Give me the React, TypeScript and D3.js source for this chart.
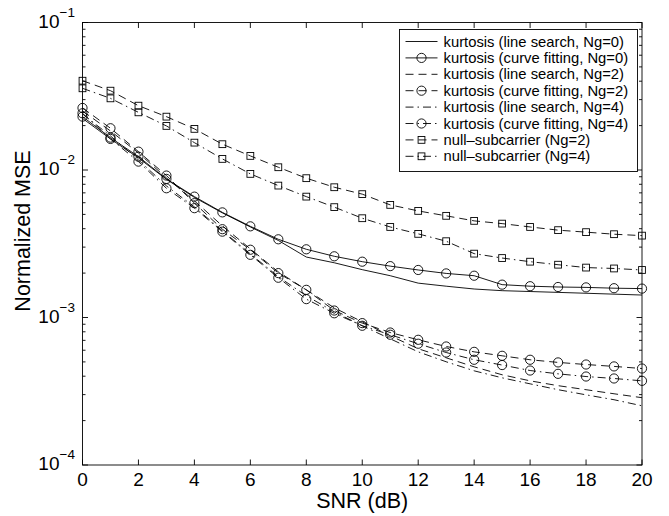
import React from "react";
import * as d3 from "d3";

const snrDb = [0, 1, 2, 3, 4, 5, 6, 7, 8, 9, 10, 11, 12, 13, 14, 15, 16, 17, 18, 19, 20];

const lineSearchNg0 = [0.02237, 0.01624, 0.01208, 0.00864, 0.00652, 0.00512, 0.00411, 0.00333, 0.00257, 0.00235, 0.00211, 0.00192, 0.00171, 0.00163, 0.00156, 0.00152, 0.0015, 0.00148, 0.00146, 0.00144, 0.00142];
const curveFitNg0 = [0.023, 0.01658, 0.01232, 0.0087, 0.0066, 0.00516, 0.00415, 0.00339, 0.0029, 0.0026, 0.00239, 0.00223, 0.0021, 0.00199, 0.00192, 0.00167, 0.00163, 0.00161, 0.0016, 0.00158, 0.00157];
const lineSearchNg2 = [0.02514, 0.0184, 0.01305, 0.00884, 0.00618, 0.00418, 0.00292, 0.00204, 0.00154, 0.001163, 0.000935, 0.000752, 0.000614, 0.000533, 0.000463, 0.000409, 0.000372, 0.000345, 0.000324, 0.000304, 0.000286];
const curveFitNg2 = [0.02635, 0.01919, 0.01332, 0.00917, 0.00596, 0.00397, 0.00288, 0.002, 0.00154, 0.001115, 0.000916, 0.000791, 0.000706, 0.000636, 0.000585, 0.00055, 0.000517, 0.000496, 0.00048, 0.000466, 0.000451];
const lineSearchNg4 = [0.02399, 0.01702, 0.0117, 0.0078, 0.00562, 0.00387, 0.0027, 0.00189, 0.001403, 0.001093, 0.000879, 0.000717, 0.000585, 0.000501, 0.000435, 0.00039, 0.000355, 0.000324, 0.000299, 0.000277, 0.000252];
const curveFitNg4 = [0.02425, 0.01624, 0.0114, 0.00752, 0.00551, 0.00382, 0.00266, 0.00186, 0.001332, 0.001068, 0.000879, 0.000764, 0.000664, 0.000579, 0.000517, 0.000476, 0.000437, 0.000415, 0.000398, 0.000386, 0.000372];
const nullSubNg2 = [0.0403, 0.0345, 0.0273, 0.023, 0.019, 0.01496, 0.01246, 0.01044, 0.0088, 0.00764, 0.00686, 0.0058, 0.00528, 0.00489, 0.00452, 0.00433, 0.00411, 0.00391, 0.00379, 0.00367, 0.00359];
const nullSubNg4 = [0.0358, 0.0306, 0.0246, 0.0199, 0.01533, 0.01189, 0.00941, 0.00784, 0.0066, 0.0056, 0.00471, 0.00411, 0.00369, 0.00329, 0.00271, 0.00253, 0.00239, 0.00228, 0.00218, 0.00215, 0.0021];

const legendLabels = [
  "kurtosis (line search, Ng=0)",
  "kurtosis (curve fitting, Ng=0)",
  "kurtosis (line search, Ng=2)",
  "kurtosis (curve fitting, Ng=2)",
  "kurtosis (line search, Ng=4)",
  "kurtosis (curve fitting, Ng=4)",
  "null\u2013subcarrier (Ng=2)",
  "null\u2013subcarrier (Ng=4)",
];

const xTicks = [0, 2, 4, 6, 8, 10, 12, 14, 16, 18, 20];
const yDecades = [1e-4, 1e-3, 1e-2, 1e-1];
const yExpLabels = ["\u22124", "\u22123", "\u22122", "\u22121"];

type Marker = "none" | "circle" | "square";
const DASH = "8,5";
const DASHDOT = "8,4,1.5,4";

const series: { data: number[]; dash: string | undefined; marker: Marker }[] = [
  { data: lineSearchNg0, dash: undefined, marker: "none" },
  { data: curveFitNg0, dash: undefined, marker: "circle" },
  { data: lineSearchNg2, dash: DASH, marker: "none" },
  { data: curveFitNg2, dash: DASH, marker: "circle" },
  { data: lineSearchNg4, dash: DASHDOT, marker: "none" },
  { data: curveFitNg4, dash: DASHDOT, marker: "circle" },
  { data: nullSubNg2, dash: DASH, marker: "square" },
  { data: nullSubNg4, dash: DASHDOT, marker: "square" },
];

const FONT = "'Liberation Sans', Arial, Helvetica, sans-serif";

function MarkerShape({ type, cx, cy }: { type: Marker; cx: number; cy: number }) {
  if (type === "circle") return <circle cx={cx} cy={cy} r={4.6} fill="none" stroke="#000" strokeWidth={0.9} />;
  if (type === "square") return <rect x={cx - 3.4} y={cy - 3.4} width={6.8} height={6.8} fill="none" stroke="#000" strokeWidth={0.9} />;
  return null;
}

export default function App() {
  const W = 669, H = 516;
  const L = 82.5, R = 642, T = 22.5, B = 465;
  const x = d3.scaleLinear().domain([0, 20]).range([L, R]);
  const y = d3.scaleLog().domain([1e-4, 1e-1]).range([B, T]);
  const line = d3.line<number>().x((_, i) => x(snrDb[i])).y((d) => y(d));

  const minor: number[] = [];
  for (let k = 0; k < 3; k++) {
    for (let m = 2; m <= 9; m++) minor.push(yDecades[k] * m);
  }

  const legX = 399.5, legY = 29.5, legW = 238, legH = 142;
  const rowH = 16.4;

  return (
    <svg width={W} height={H} style={{ position: "absolute", left: 0, top: 0, background: "#fff" }} fontFamily={FONT}>
      <rect x={0} y={0} width={W} height={H} fill="#fff" />
      <defs>
        <clipPath id="plotclip">
          <rect x={L} y={T} width={R - L} height={B - T} />
        </clipPath>
      </defs>
      <g clipPath="url(#plotclip)">
        {series.map((s, i) => (
          <path key={i} d={line(s.data) || ""} fill="none" stroke="#000" strokeWidth={0.9} strokeDasharray={s.dash} />
        ))}
      </g>
      {series.map((s, i) =>
        s.marker === "none" ? null : (
          <g key={"m" + i}>
            {s.data.map((d, j) => (
              <MarkerShape key={j} type={s.marker} cx={x(snrDb[j])} cy={y(d)} />
            ))}
          </g>
        )
      )}
      <rect x={L} y={T} width={R - L} height={B - T} fill="none" stroke="#000" strokeWidth={0.9} />
      {xTicks.map((t) => (
        <g key={"xt" + t}>
          <line x1={x(t)} x2={x(t)} y1={B} y2={B - 5.5} stroke="#000" strokeWidth={0.9} />
          <line x1={x(t)} x2={x(t)} y1={T} y2={T + 5.5} stroke="#000" strokeWidth={0.9} />
          <text x={x(t)} y={B + 20.5} textAnchor="middle" fontSize={19}>{t}</text>
        </g>
      ))}
      {yDecades.map((t, i) => (
        <g key={"yt" + i}>
          <line x1={L} x2={L + 5.5} y1={y(t)} y2={y(t)} stroke="#000" strokeWidth={0.9} />
          <line x1={R} x2={R - 5.5} y1={y(t)} y2={y(t)} stroke="#000" strokeWidth={0.9} />
          <text x={L - 23} y={y(t) + 5} textAnchor="end" fontSize={19}>10</text>
          <text x={L - 23} y={y(t) - 6} textAnchor="start" fontSize={13.5}>{yExpLabels[i]}</text>
        </g>
      ))}
      {minor.map((t, i) => (
        <g key={"ym" + i}>
          <line x1={L} x2={L + 3} y1={y(t)} y2={y(t)} stroke="#000" strokeWidth={0.9} />
          <line x1={R} x2={R - 3} y1={y(t)} y2={y(t)} stroke="#000" strokeWidth={0.9} />
        </g>
      ))}
      <text x={(L + R) / 2} y={508} textAnchor="middle" fontSize={21.5}>SNR (dB)</text>
      <text transform={`translate(29.5,${231}) rotate(-90)`} textAnchor="middle" fontSize={21.5}>Normalized MSE</text>
      <g>
        <rect x={legX} y={legY} width={legW} height={legH} fill="#fff" stroke="#000" strokeWidth={0.9} />
        {series.map((s, i) => {
          const cy = legY + 12 + i * rowH;
          return (
            <g key={"lg" + i}>
              <line x1={legX + 6} x2={legX + 38} y1={cy} y2={cy} stroke="#000" strokeWidth={0.9} strokeDasharray={s.dash} />
              <MarkerShape type={s.marker} cx={legX + 22} cy={cy} />
              <text x={legX + 44} y={cy + 5} fontSize={14.8}>{legendLabels[i]}</text>
            </g>
          );
        })}
      </g>
    </svg>
  );
}
